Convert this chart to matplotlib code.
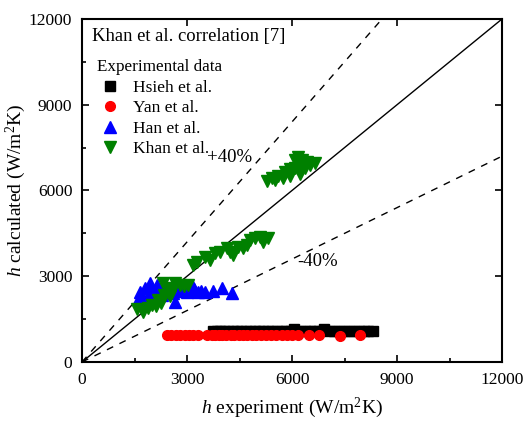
import matplotlib
matplotlib.use('Agg')
import matplotlib.pyplot as plt
import numpy as np

plt.rcParams['font.family'] = 'Liberation Serif'
plt.rcParams['mathtext.fontset'] = 'custom'
plt.rcParams['mathtext.rm'] = 'Liberation Serif'
plt.rcParams['mathtext.it'] = 'Liberation Serif:italic'

# Hsieh et al. (black squares)
hsieh_x = [3740, 3850, 3950, 4060, 4180, 4300, 4420, 4550, 4680, 4800, 4930, 5050,
           5180, 5300, 5430, 5560, 5700, 5830, 5960, 6050, 6230, 6370, 6500, 6640,
           6780, 6920, 7050, 7200, 7340, 7480, 7620, 7760, 7900, 8050, 8180, 8310]
hsieh_y = [1090, 1100, 1080, 1095, 1085, 1100, 1090, 1080, 1095, 1100, 1085, 1090,
           1100, 1080, 1095, 1090, 1085, 1100, 1090, 1150, 1095, 1085, 1100, 1090,
           1080, 1150, 1090, 1100, 1085, 1095, 1080, 1090, 1100, 1085, 1095, 1080]

# Yan et al. (red circles)
yan_x = [2430, 2550, 2680, 2800, 2930, 3050, 3180, 3300,
         3580, 3700, 3800, 3900, 4000, 4120, 4250, 4350, 4480, 4600, 4720, 4850,
         4980, 5100, 5250, 5400, 5550, 5700, 5850, 6000, 6170, 6490, 6770, 7370, 7940]
yan_y = [940, 930, 950, 935, 945, 930, 940, 950,
         930, 945, 935, 950, 940, 930, 945, 935, 950, 940, 930, 945,
         935, 950, 930, 940, 945, 935, 930, 940, 950, 945, 935, 900, 940]

# Han et al. (blue triangles)
han_x = [1620, 1660, 1750, 1800, 1880, 1950, 2000, 2080, 2150, 2200, 2280, 2350,
         2450, 2520, 2600, 2660, 2700, 2800, 2900, 3000, 3140, 3200, 3300, 3400,
         3510, 3740, 4000, 4290, 1900, 2250]
han_y = [2240, 2450, 2150, 2600, 2300, 2760, 2450, 2250, 2700, 2550, 2350, 2650,
         2500, 2600, 2400, 2100, 2700, 2500, 2600, 2450, 2690, 2550, 2450, 2500,
         2450, 2480, 2590, 2410, 2150, 2480]

# Khan et al. (green down triangles)
khan_x = [1570, 1750, 1890, 2000, 2170, 2340, 2310, 2450, 2560, 2660, 2800, 2900, 3030,
          2100, 2250, 2500,
          3170, 3290, 3510, 3660, 3800, 3940, 4140, 4230, 4310, 4460, 4600, 4710,
          4800, 4940, 5090, 5170, 5310,
          5290, 5430, 5510, 5600, 5740, 5800, 5940, 5940, 6090, 6090, 6170, 6230,
          6230, 6290, 6370, 6430, 6510, 6660]
khan_y = [1850, 1750, 1890, 2000, 2170, 2340, 2760, 2600, 2500, 2760, 2700, 2650, 2690,
          1950, 2050, 2300,
          3390, 3500, 3670, 3570, 3810, 3850, 3990, 3850, 3740, 4020, 3990, 4090,
          4270, 4340, 4370, 4200, 4340,
          6330, 6440, 6370, 6510, 6440, 6650, 6510, 6760, 6790, 7070, 7170, 6580,
          6890, 7070, 6790, 7000, 6890, 6960]

ref = np.array([0, 12000])

fig = plt.figure(figsize=(5.28, 4.29), dpi=100)
ax = fig.add_axes([0.1553, 0.1562, 0.7955, 0.7995])

ax.plot(ref, ref, color='black', lw=1)
ax.plot(ref, 1.4 * ref, color='black', lw=1, linestyle=(0, (5, 5)))
ax.plot(ref, 0.6 * ref, color='black', lw=1, linestyle=(0, (5, 5)))

ax.plot(hsieh_x, hsieh_y, 's', color='black', ms=7, label='Hsieh et al.')
ax.plot(yan_x, yan_y, 'o', color='red', ms=7, label='Yan et al.')
ax.plot(han_x, han_y, '^', color='blue', ms=8, label='Han et al.')
ax.plot(khan_x, khan_y, 'v', color='green', ms=8, label='Khan et al.')

ax.set_xlim(0, 12000)
ax.set_ylim(0, 12000)
ax.set_xticks([0, 3000, 6000, 9000, 12000])
ax.set_yticks([0, 3000, 6000, 9000, 12000])
ax.set_xticks([1500, 4500, 7500, 10500], minor=True)
ax.set_yticks([1500, 4500, 7500, 10500], minor=True)
ax.tick_params(which='major', direction='in', length=5, width=1.2, labelsize=12.5,
               top=True, right=True, pad=7)
ax.tick_params(which='minor', direction='in', length=3, width=1.2)
for s in ax.spines.values():
    s.set_linewidth(1.5)

ax.set_xlabel(r'$\it{h}$ experiment (W/m$^2$K)', fontsize=14, labelpad=6)
ax.set_ylabel(r'$\it{h}$ calculated (W/m$^2$K)', fontsize=14, labelpad=1)

ax.text(280, 11380, 'Khan et al. correlation [7]', fontsize=13.4, va='center')
ax.text(4230, 7170, '+40%', fontsize=13.5, ha='center', va='center')
ax.text(6740, 3500, '-40%', fontsize=13.5, ha='center', va='center')

leg = ax.legend(loc='upper left', bbox_to_anchor=(0.036, 0.882), frameon=False,
                title='Experimental data', fontsize=12.5, title_fontsize=12.3,
                handletextpad=0.55, borderaxespad=0.0, borderpad=0.0,
                labelspacing=0.25, handlelength=1.5)
leg._legend_box.align = 'left'

fig.savefig('out.png', dpi=100)
